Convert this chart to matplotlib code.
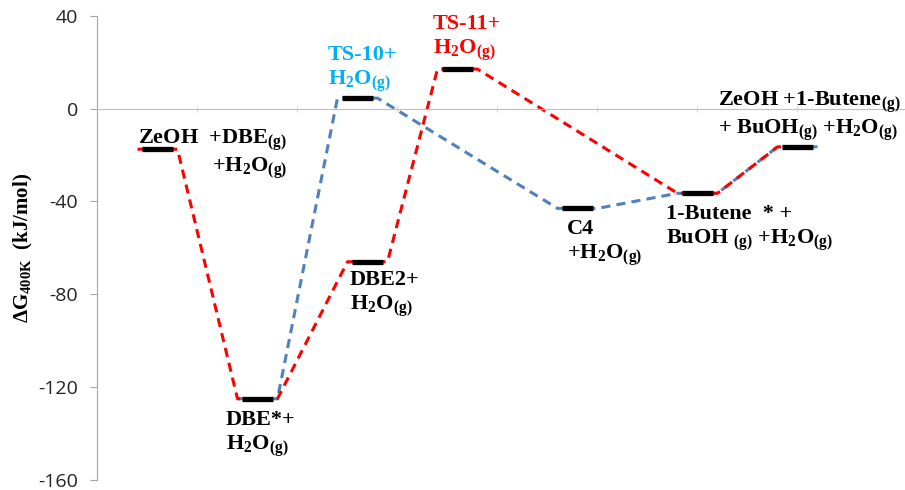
import numpy as np
import matplotlib.pyplot as plt

plt.rcParams['mathtext.fontset'] = 'custom'
plt.rcParams['mathtext.rm'] = 'Liberation Serif:bold'
plt.rcParams['mathtext.bf'] = 'Liberation Serif:bold'
plt.rcParams['mathtext.it'] = 'Liberation Serif:bold'
plt.rcParams['axes.unicode_minus'] = False

# energy levels (kJ/mol) and their positions along the reaction coordinate
states = ['ZeOH', 'DBE*', 'TS-10', 'DBE2', 'TS-11', 'C4', '1-Butene*', 'Final']
xpos = [0.6, 1.6, 2.6, 2.7, 3.6, 4.8, 6.0, 7.0]
dG = [-17.5, -125, 4.5, -66, 17, -43, -36.5, -16.5]

red_path = ['ZeOH', 'DBE*', 'DBE2', 'TS-11', '1-Butene*', 'Final']
blue_path = ['DBE*', 'TS-10', 'C4', '1-Butene*', 'Final']

labels = {
    'ZeOH': 'ZeOH  +DBE$_\\mathbf{(g)}$\n+H$_\\mathbf{2}$O$_\\mathbf{(g)}$',
    'DBE*': 'DBE*+\nH$_\\mathbf{2}$O$_\\mathbf{(g)}$',
    'TS-10': 'TS-10+\nH$_\\mathbf{2}$O$_\\mathbf{(g)}$',
    'DBE2': 'DBE2+\nH$_\\mathbf{2}$O$_\\mathbf{(g)}$',
    'TS-11': 'TS-11+\nH$_\\mathbf{2}$O$_\\mathbf{(g)}$',
    'C4': 'C4\n+H$_\\mathbf{2}$O$_\\mathbf{(g)}$',
    '1-Butene*': '1-Butene  * +\nBuOH $_\\mathbf{(g)}$ +H$_\\mathbf{2}$O$_\\mathbf{(g)}$',
    'Final': 'ZeOH +1-Butene$_\\mathbf{(g)}$\n+ BuOH$_\\mathbf{(g)}$ +H$_\\mathbf{2}$O$_\\mathbf{(g)}$',
}
# label anchor (x, y, ha, colour)
label_pos = {
    'ZeOH': (1.895, -8, 'right', 'black'),
    'DBE*': (1.285, -130, 'left', 'black'),
    'TS-10': (2.305, 27.4, 'left', '#00B0F0'),
    'DBE2': (2.525, -69.6, 'left', 'black'),
    'TS-11': (3.355, 40.7, 'left', '#FF0000'),
    'C4': (4.695, -47.6, 'left', 'black'),
    '1-Butene*': (5.685, -41.2, 'left', 'black'),
    'Final': (6.205, 8.4, 'left', 'black'),
}

level = dict(zip(states, zip(xpos, dG)))
half_bar = 0.155
half_line = 0.2


def path_xy(names):
    xs, ys = [], []
    for n in names:
        x, y = level[n]
        xs += [x - half_line, x + half_line]
        ys += [y, y]
    return xs, ys


fig = plt.figure(figsize=(9.05, 4.9), dpi=100)
ax = fig.add_axes([0.1077, 0.0204, 0.8923, 0.9476])

bx, by = path_xy(blue_path)
ax.plot(bx, by, color='#4F81BD', lw=2.2, dashes=(3, 2))
rx, ry = path_xy(red_path)
ax.plot(rx, ry, color='#FF0000', lw=2.2, dashes=(3, 2))

for x, y in zip(xpos, dG):
    ax.plot([x - half_bar, x + half_bar], [y, y], color='black', lw=3.8,
            solid_capstyle='butt')

for n in states:
    x, y, ha, c = label_pos[n]
    ax.text(x, y, labels[n], ha=ha, va='top', multialignment=ha, color=c,
            fontsize=16, fontweight='bold', family='Liberation Serif',
            linespacing=1.2)

ax.set_xlim(0, 8.075)
ax.set_ylim(-160, 40)
ax.set_yticks(np.arange(-160, 41, 40))
ax.set_xticks(np.arange(1, 9))
ax.set_xticklabels([])

for s in ['top', 'right']:
    ax.spines[s].set_visible(False)
ax.spines['bottom'].set_position(('data', 0))
ax.spines['left'].set_color('#A6A6A6')
ax.spines['bottom'].set_color('#BFBFBF')
ax.tick_params(axis='y', direction='out', length=5, color='#A6A6A6',
               labelsize=14, labelcolor='#222222', pad=9)
ax.tick_params(axis='x', direction='inout', length=4, color='#D9D9D9')
for lab in ax.get_yticklabels():
    lab.set_family('Open Sans')

ax.set_ylabel('ΔG$_\\mathbf{400K}$  (kJ/mol)', fontsize=15, fontweight='bold',
              family='Liberation Serif')
ax.yaxis.set_label_coords(-0.077, 0.5)

fig.savefig('out.png', dpi=100)
